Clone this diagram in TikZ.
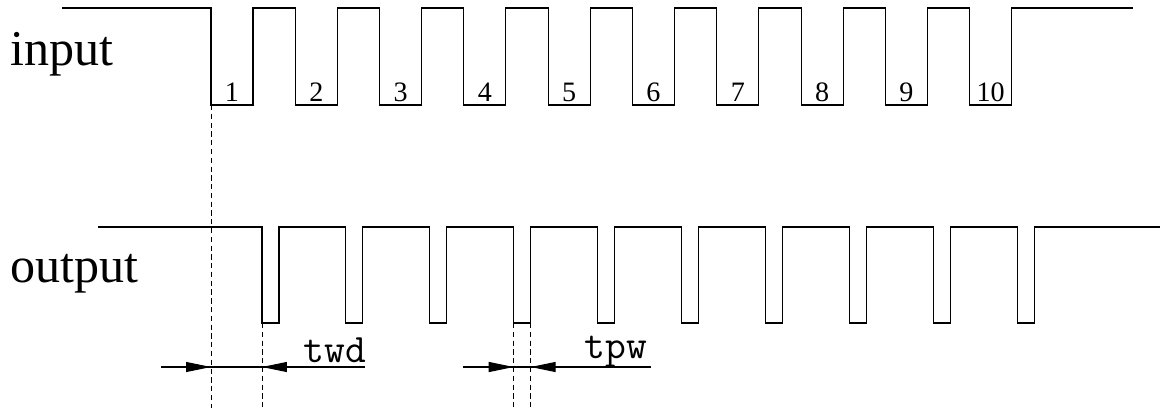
\documentclass[tikz,border=0pt]{standalone}
\usepackage{fontspec}
\setmainfont{Liberation Serif}
\usetikzlibrary{arrows.meta}

\tikzset{
  wave/.style={line width=0.6pt},
  guide/.style={line width=0.5pt, dash pattern=on 3pt off 2pt},
  dimline/.style={line width=0.6pt},
  tiptri/.style={-{Triangle[length=0.5cm,width=0.2cm]}},
  numlab/.style={anchor=base, inner sep=0pt, font=\fontsize{16}{16}\selectfont},
  siglab/.style={anchor=base west, inner sep=0pt, font=\fontsize{28.5}{30}\selectfont},
  timelab/.style={anchor=base, inner sep=0pt, font=\ttfamily\fontsize{23}{24}\selectfont}
}

\begin{document}
\begin{tikzpicture}[x=0.02cm,y=-0.02cm]
\useasboundingbox (0,0) rectangle (1163,410);

% Etichette dei segnali
\node[siglab] (lin) at (10,65) {input};
\node[siglab] (lout) at (10,282) {output};

% Segnale di ingresso
\draw[wave] (62,8)
  \foreach \i in {0,...,9} {
    -- ({211+84.3*\i},8) -- ({211+84.3*\i},105)
    -- ({253+84.3*\i},105) -- ({253+84.3*\i},8) }
  -- (1133,8);

% Numeri degli impulsi
\foreach \i in {1,...,10} {
  \coordinate (inF\i) at ({211+84.3*(\i-1)},105);
  \node[numlab] (n\i) at ({232+84.3*(\i-1)},101) {\i};
}

% Segnale di uscita
\draw[wave] (98,227)
  \foreach \i in {0,...,9} {
    -- ({262+83.9*\i},227) -- ({262+83.9*\i},323)
    -- ({279+83.9*\i},323) -- ({279+83.9*\i},227) }
  -- (1160,227);

\foreach \i in {1,...,10} {
  \coordinate (outF\i) at ({262+83.9*(\i-1)},323);
  \coordinate (outR\i) at ({279+83.9*(\i-1)},323);
}

% Linee di riferimento
\coordinate (base) at (0,408);
\draw[guide] (inF1) -- (inF1 |- base);
\draw[guide] (outF1) -- (outF1 |- base);
\draw[guide] (outF4) -- (outF4 |- base);
\draw[guide] (outR4) -- (outR4 |- base);

% Ritardo twd
\coordinate (twdA) at (161,367);
\coordinate (twdB) at (365,367);
\draw[dimline] (twdA) -- (twdB);
\draw[dimline,tiptri] (twdA) -- (inF1 |- twdA);
\draw[dimline,tiptri] (twdB) -- (outF1 |- twdB);
\node[timelab] (twd) at (335,362) {twd};

% Larghezza tpw
\coordinate (tpwA) at (463,367);
\coordinate (tpwB) at (651,367);
\draw[dimline] (tpwA) -- (tpwB);
\draw[dimline,tiptri] (tpwA) -- (outF4 |- tpwA);
\draw[dimline,tiptri] (tpwB) -- (outR4 |- tpwB);
\node[timelab] (tpw) at (616,358) {tpw};

\end{tikzpicture}
\end{document}
